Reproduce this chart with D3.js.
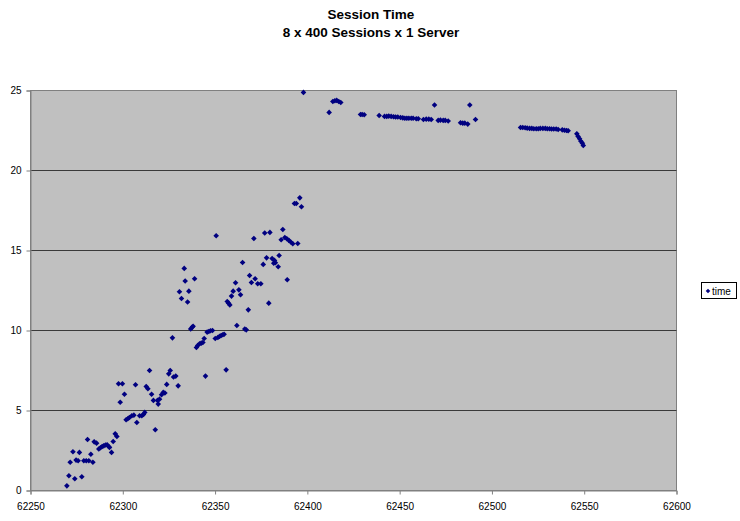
<!DOCTYPE html>
<html><head><meta charset="utf-8">
<script src="https://cdn.jsdelivr.net/npm/d3@7/dist/d3.min.js"></script>
<style>body{margin:0;background:#fff}svg{display:block}</style>
</head><body>
<script>
// Data
const sessionStart = [
62269.7,62270.8,62274.0,62277.8,62271.5,62273.0,62274.7,62275.8,62276.5,62278.9,
62280.2,62281.6,62280.9,62282.7,62283.8,62284.5,62285.8,62287.0,62287.9,62288.8,
62289.7,62290.6,62291.5,62292.4,62292.8,62293.9,62294.8,62295.9,62296.8,62298.6,
62297.7,62299.8,62300.9,62301.8,62302.7,62303.6,62304.9,62306.0,62306.9,62307.6,
62309.1,62310.3,62311.2,62311.9,62312.7,62313.6,62315.6,62314.5,62316.6,62319.2,
62318.8,62319.9,62317.6,62321.0,62321.9,62322.8,62323.8,62330.0,62324.9,62325.7,
62327.5,62328.7,62326.9,62333.3,62338.9,62333.8,62330.7,62335.8,62331.8,62335.1,
62336.8,62337.6,62338.1,62339.9,62340.6,62341.6,62342.5,62343.4,62344.1,62344.8,
62345.7,62346.6,62347.5,62348.6,62350.1,62351.5,62352.4,62353.3,62354.2,62354.9,
62356.0,62350.6,62356.6,62357.3,62358.0,62358.9,62359.8,62361.1,62361.8,62362.9,
62363.8,62364.9,62366.1,62366.9,62368.0,62368.7,62369.7,62371.0,62371.7,62373.1,
62374.8,62376.1,62376.9,62377.9,62379.1,62379.7,62380.9,62381.8,62382.2,62382.7,
62384.2,62384.7,62385.8,62386.7,62387.8,62388.9,62389.1,62390.0,62391.0,62392.1,
62393.0,62394.0,62394.8,62395.9,62396.8,62397.9,62411.8,62413.8,62414.9,62415.9,
62417.0,62418.1,62428.8,62429.7,62430.8,62438.9,62441.8,62443.0,62444.1,62445.4,
62446.7,62447.8,62449.0,62450.5,62451.7,62452.8,62453.9,62455.0,62456.3,62457.3,
62459.0,62460.1,62462.9,62464.4,62465.8,62467.1,62468.9,62470.9,62472.1,62473.6,
62474.7,62476.3,62483.0,62484.2,62485.3,62486.9,62488.0,62491.1,62515.5,62516.7,
62518.0,62519.1,62520.4,62521.6,62522.7,62524.0,62525.1,62526.2,62527.6,62528.9,
62530.0,62531.2,62532.3,62533.5,62534.8,62535.9,62538.1,62539.3,62540.4,62541.3,
62546.0,62546.7,62547.5,62548.2,62549.0,62549.5
];
const sessionTime = [
0.29,0.92,0.73,0.86,1.77,2.42,1.90,1.86,2.38,1.86,
1.86,1.86,3.19,2.27,1.77,3.04,2.96,2.59,2.67,2.75,
2.79,2.84,2.86,2.75,2.69,2.38,3.06,3.54,3.38,5.52,
6.67,6.67,6.02,4.42,4.48,4.56,4.67,4.71,6.61,4.25,
4.67,4.67,4.75,4.88,6.50,6.36,6.02,7.50,5.63,5.40,
5.63,5.71,3.80,5.98,6.13,6.09,6.63,6.54,7.29,7.50,
7.09,7.15,9.54,13.88,13.23,13.09,12.42,12.46,12.00,11.78,
10.10,10.21,10.27,8.94,9.06,9.17,9.21,9.25,9.50,7.15,
9.90,9.94,9.98,10.00,9.50,9.56,9.63,9.69,9.73,9.77,
7.54,15.92,11.81,11.71,11.60,12.15,12.46,12.98,10.31,12.54,
12.23,14.25,10.09,10.04,11.29,13.44,13.00,15.75,13.23,12.92,
12.92,14.13,16.09,14.54,11.71,16.13,14.50,14.21,14.38,14.23,
13.98,14.69,15.67,16.31,15.81,15.73,13.17,15.63,15.53,15.42,
17.94,17.94,15.44,18.29,17.73,24.88,23.63,24.31,24.36,24.38,
24.31,24.25,23.50,23.50,23.48,23.44,23.38,23.38,23.40,23.38,
23.36,23.34,23.34,23.31,23.29,23.27,23.27,23.27,23.27,23.27,
23.23,23.23,23.19,23.21,23.21,23.19,24.09,23.13,23.15,23.13,
23.13,23.09,22.98,22.96,22.96,22.90,24.09,23.19,22.69,22.69,
22.67,22.65,22.63,22.63,22.61,22.61,22.61,22.63,22.63,22.63,
22.61,22.61,22.59,22.59,22.59,22.56,22.54,22.52,22.50,22.48,
22.29,22.13,21.98,21.83,21.71,21.56
];
const xTicks = [62250,62300,62350,62400,62450,62500,62550,62600];
const yTicks = [0,5,10,15,20,25];
const titleLines = ["Session Time","8 x 400 Sessions x 1 Server"];
const seriesName = "time";

const W = 740, H = 521;
const svg = d3.select("body").append("svg").attr("width",W).attr("height",H)
  .style("font-family","'Liberation Sans', Arial, sans-serif");

const x = d3.scaleLinear().domain([62250,62600]).range([30.5,676.5]);
const y = d3.scaleLinear().domain([0,25]).range([490.5,90.5]);

// plot area
svg.append("rect").attr("x",x(62250)).attr("y",y(25))
  .attr("width",x(62600)-x(62250)).attr("height",y(0)-y(25))
  .attr("fill","#c0c0c0").attr("stroke","#808080").attr("stroke-width",1);

// gridlines
svg.append("g").selectAll("line").data(yTicks.filter(d=>d>0&&d<25)).join("line")
  .attr("x1",x(62250)).attr("x2",x(62600)).attr("y1",d=>y(d)).attr("y2",d=>y(d))
  .attr("stroke","#3a3a3a").attr("stroke-width",1);

// axes
const xAxis = svg.append("g").attr("transform",`translate(0,${y(0)})`)
  .call(d3.axisBottom(x).tickValues(xTicks).tickFormat(d3.format("d")).tickSize(4).tickPadding(8));
const yAxis = svg.append("g").attr("transform",`translate(${x(62250)},0)`)
  .call(d3.axisLeft(y).tickValues(yTicks).tickSize(4).tickPadding(5));
[xAxis,yAxis].forEach(a=>{
  a.select(".domain").attr("stroke","#808080");
  a.selectAll(".tick line").attr("stroke","#808080");
  a.selectAll("text").attr("fill","#000").style("font-size","10px")
   .style("font-family","'Liberation Sans', Arial, sans-serif");
});

// points
const diamond = "M0,-2.8L2.8,0L0,2.8L-2.8,0Z";
svg.append("g").selectAll("path").data(sessionStart.map((v,i)=>[v,sessionTime[i]])).join("path")
  .attr("d",diamond).attr("transform",d=>`translate(${x(d[0])},${y(d[1])})`)
  .attr("fill","#000080");

// title
svg.append("g").selectAll("text").data(titleLines).join("text")
  .attr("x",371).attr("y",(d,i)=>19+i*18).attr("text-anchor","middle")
  .style("font-size","13.5px").style("font-weight","bold").text(d=>d);

// legend
const lg = svg.append("g");
lg.append("rect").attr("x",701.5).attr("y",282.5).attr("width",35).attr("height",16)
  .attr("fill","#fff").attr("stroke","#000").attr("stroke-width",1);
lg.append("path").attr("d","M0,-2.3L2.3,0L0,2.3L-2.3,0Z").attr("transform","translate(708,291)").attr("fill","#000080");
lg.append("text").attr("x",712).attr("y",294.5).style("font-size","10px").text(seriesName);
</script>
</body></html>
